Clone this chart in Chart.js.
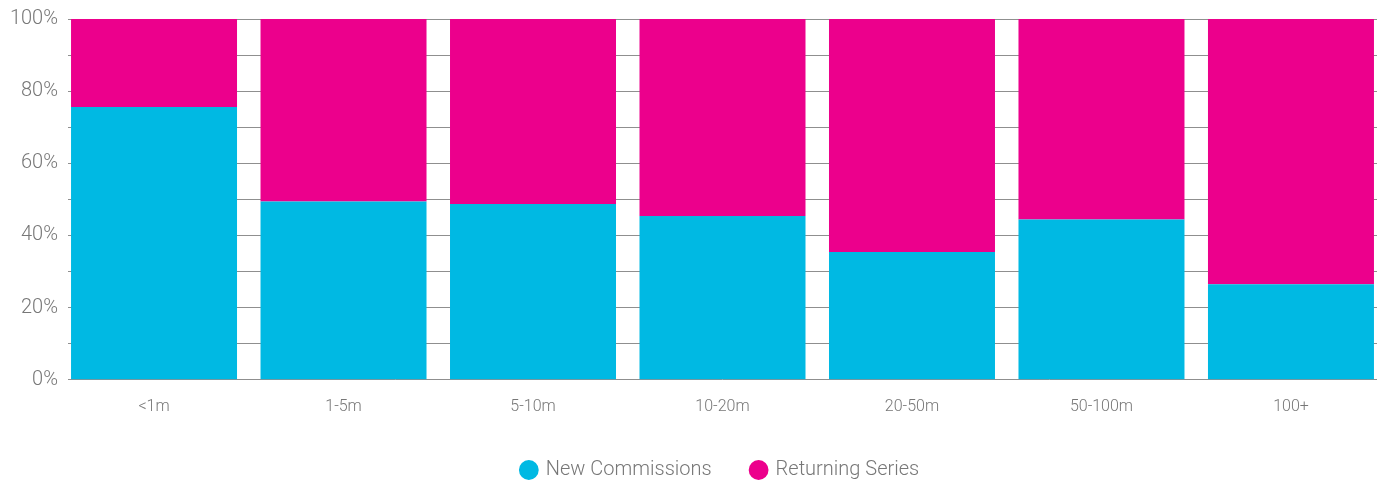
<!DOCTYPE html>
<html>
<head>
<meta charset="utf-8">
<script src="https://cdn.jsdelivr.net/npm/chart.js@4"></script>
<style>
  html, body { margin: 0; padding: 0; background: #fff; }
  #wrap { width: 1383px; height: 480px; }
</style>
</head>
<body>
<div id="wrap"><canvas id="displayChart" width="1383" height="480"></canvas></div>
<script>
// categories and values
var categories = ["<1m", "1-5m", "5-10m", "10-20m", "20-50m", "50-100m", "100+"];
var newCommissions = [75.6, 49.4, 48.7, 45.4, 35.4, 44.4, 26.5];
var returningSeries = [24.4, 50.6, 51.3, 54.6, 64.6, 55.9, 73.5];
var yTicks = [0, 20, 40, 60, 80, 100];

var blue = "rgb(0, 185, 227)";
var pink = "rgb(236, 0, 140)";
var grey = "#777";

//linear x so the bars can sit close to the edges like the original
function toPoints(values) {
  return values.map(function (v, i) { return { x: i, y: v }; });
}

//legend in the original sits a bit right of centre, with a wider gap between items
var legendShift = {
  id: "legendShift",
  afterLayout: function (chart) {
    var lg = chart.legend;
    lg.options.labels.padding = 40;
    lg.top -= 15;
    lg.left += 17;
    lg.right += 17;
  }
};

var c = document.getElementById("displayChart");
var ctx = c.getContext("2d");

var chart = new Chart(ctx, {
  type: "bar",
  data: {
    datasets: [{
      label: "New Commissions",
      backgroundColor: blue,
      data: toPoints(newCommissions)
    }, {
      label: "Returning Series",
      backgroundColor: pink,
      data: toPoints(returningSeries)
    }]
  },
  plugins: [legendShift],
  options: {
    responsive: false,
    animation: false,
    layout: { padding: { left: 0, right: 6, top: 19, bottom: -10 } },
    datasets: { bar: { categoryPercentage: 1, barPercentage: 0.876 } },
    scales: {
      x: {
        type: "linear",
        stacked: true,
        offset: false,
        min: -0.454,
        max: 6.454,
        grid: { display: false, drawTicks: false },
        border: { display: false },
        afterBuildTicks: function (scale) {
          scale.ticks = categories.map(function (c, i) { return { value: i }; });
        },
        ticks: {
          autoSkip: false,
          maxRotation: 0,
          padding: 18,
          color: grey,
          font: { family: "Roboto", weight: 300, size: 16 },
          callback: function (v) { return categories[v]; }
        }
      },
      y: {
        stacked: true,
        min: 0,
        max: 100,
        border: { display: false },
        grid: { color: "#8f8f8f", lineWidth: 1, drawTicks: false },
        afterFit: function (scale) {
          scale.width = 68;
          scale.paddingTop = 0;
        },
        ticks: {
          stepSize: 10,
          padding: 10,
          color: grey,
          font: { family: "Roboto", weight: 300, size: 20 },
          callback: function (v) { return yTicks.indexOf(v) >= 0 ? v + "%" : ""; }
        }
      }
    },
    plugins: {
      tooltip: { enabled: false },
      legend: {
        position: "bottom",
        labels: {
          usePointStyle: true,
          pointStyle: "circle",
          boxWidth: 14,
          boxHeight: 14,
          padding: 25,
          color: grey,
          font: { family: "Roboto", weight: 300, size: 20 }
        }
      }
    }
  }
});
</script>
</body>
</html>
